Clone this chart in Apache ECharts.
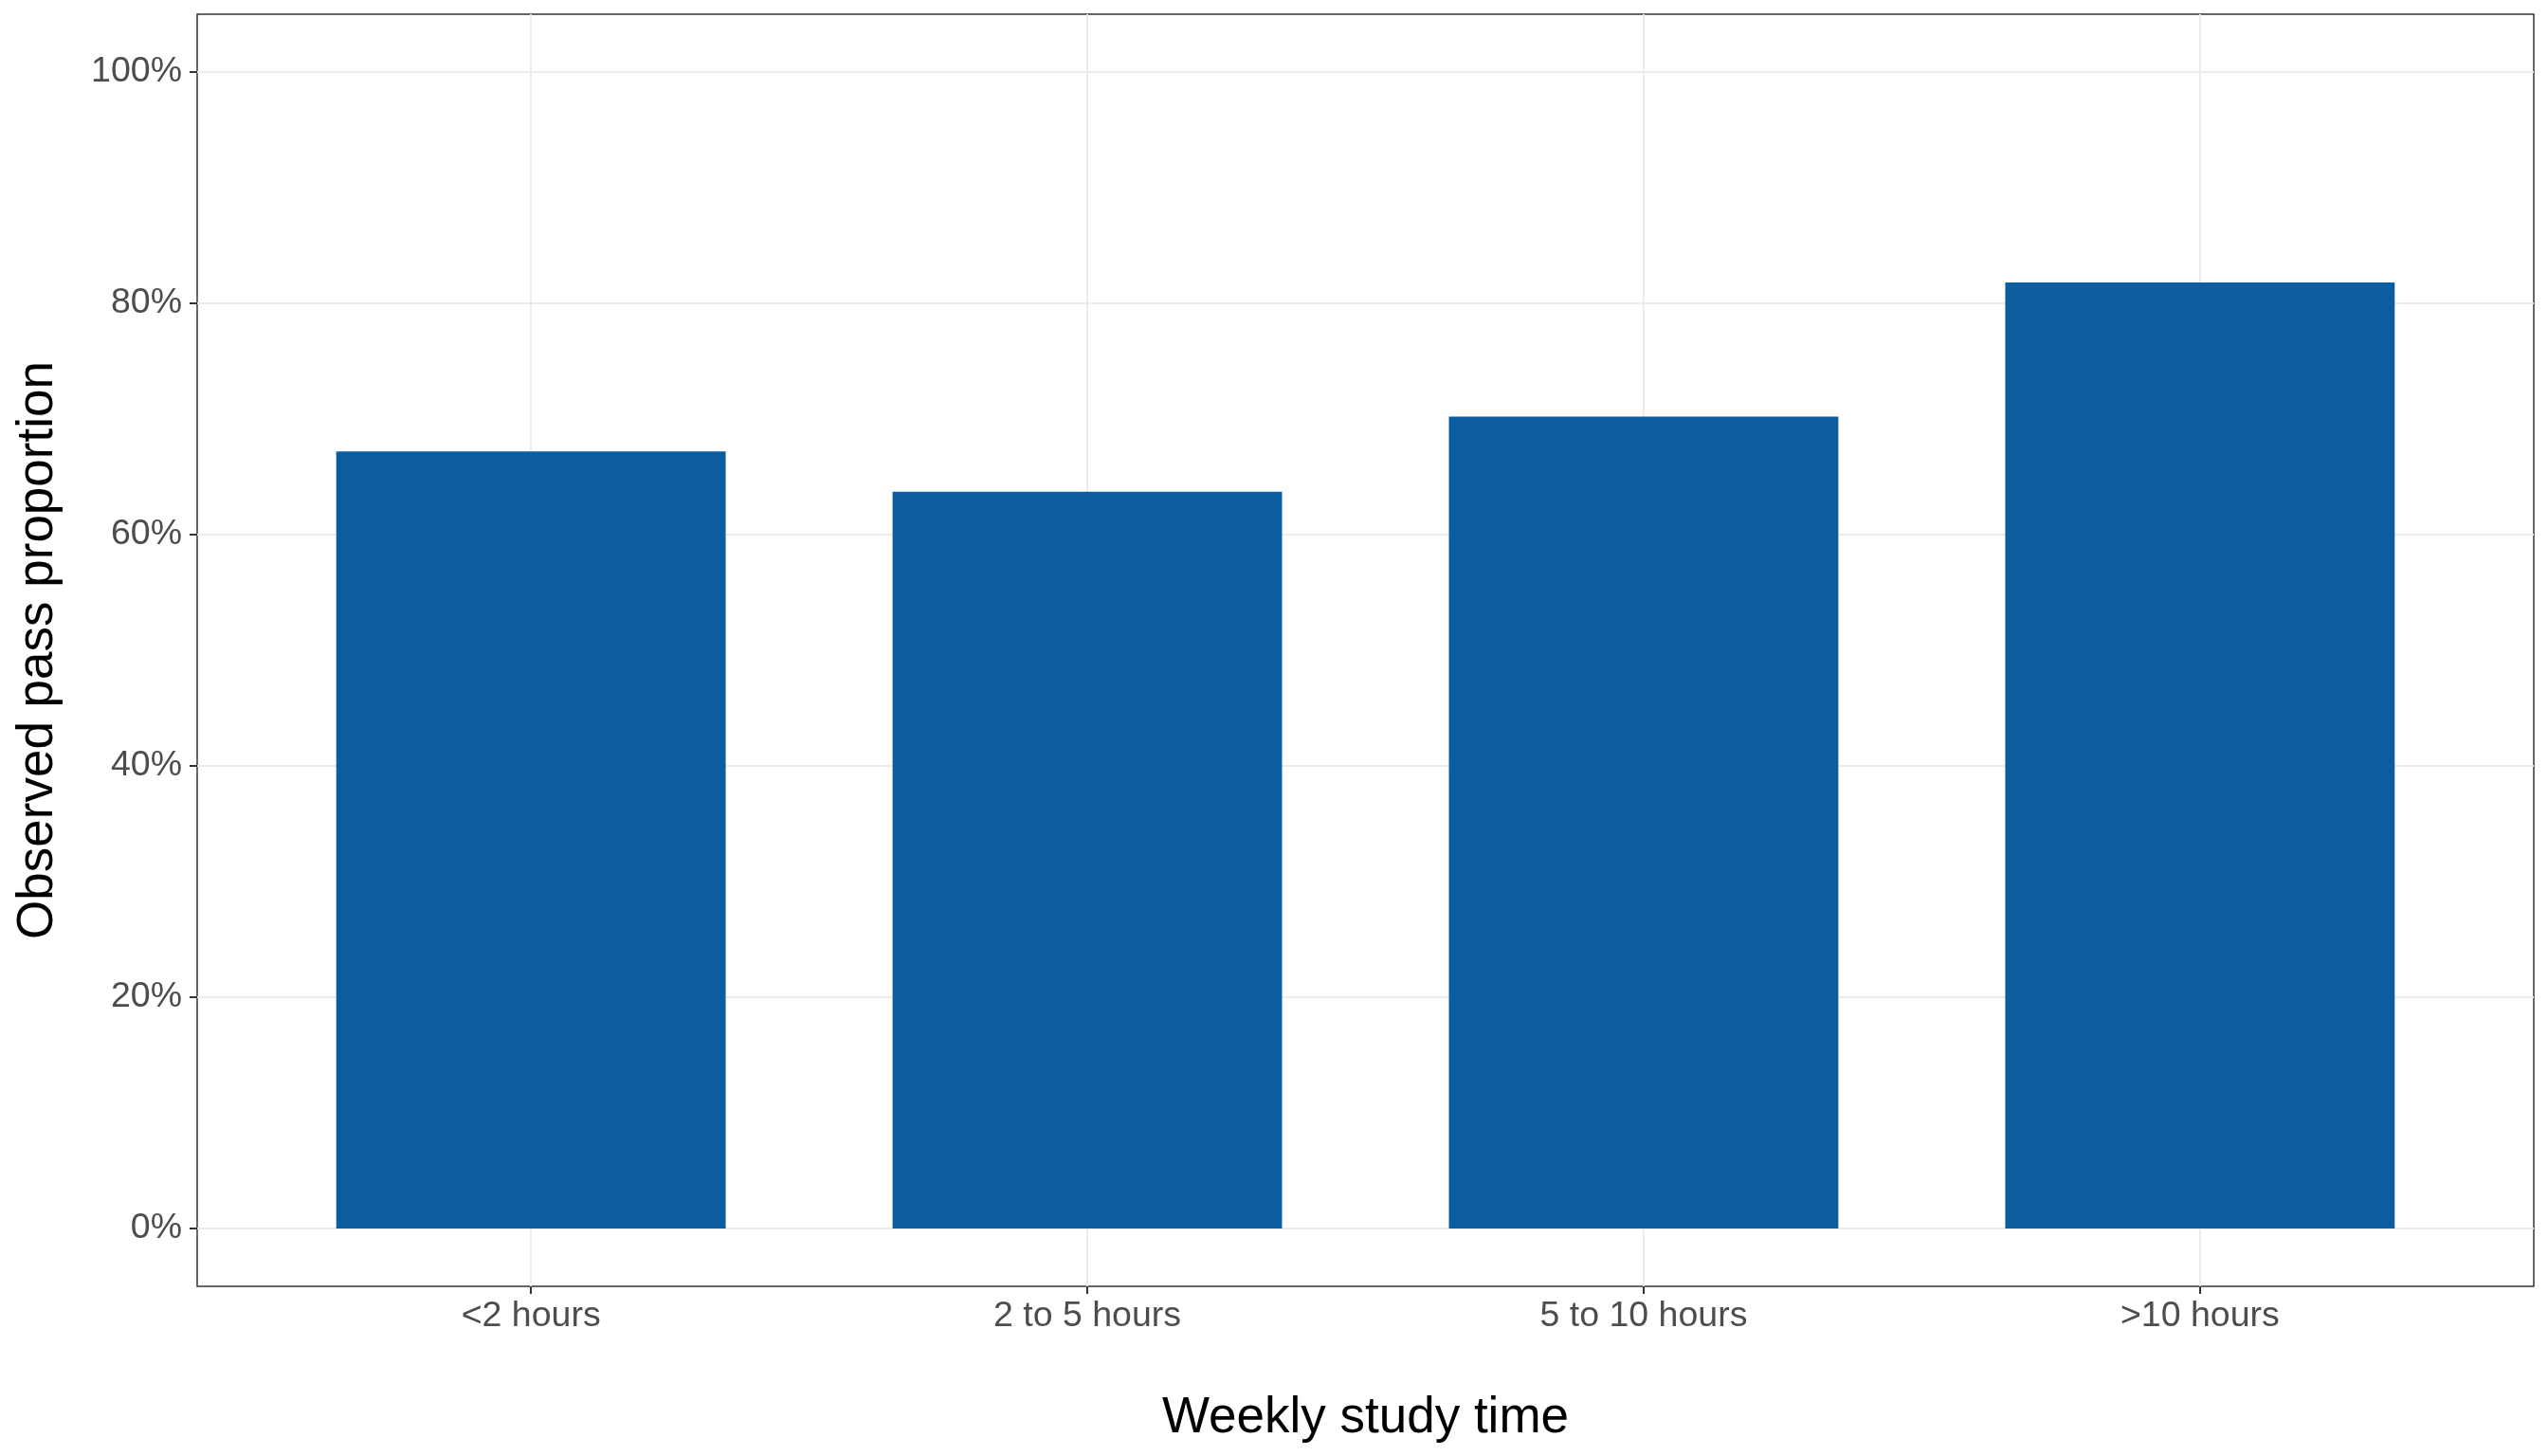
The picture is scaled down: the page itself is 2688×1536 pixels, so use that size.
<!DOCTYPE html>
<html>
<head>
<meta charset="utf-8">
<script src="https://cdn.jsdelivr.net/npm/echarts@6/dist/echarts.min.js"></script>
<style>
  html, body { margin: 0; padding: 0; background: #ffffff; }
  #chart { width: 2688px; height: 1536px; }
</style>
</head>
<body>
<div id="chart"></div>
<script>
// ---- data ----
const categories = ['<2 hours', '2 to 5 hours', '5 to 10 hours', '>10 hours'];
const passPercent = [67.2, 63.7, 70.2, 81.8];
const yTicks = [0, 20, 40, 60, 80, 100];
const xTitle = 'Weekly study time';
const yTitle = 'Observed pass proportion';

const xPositions = categories.map((_, i) => i + 1);
const barData = passPercent.map((v, i) => [xPositions[i], v]);

const FONT = "'Liberation Sans', Arial, Helvetica, sans-serif";
const chart = echarts.init(document.getElementById('chart'), null, { renderer: 'canvas' });

chart.setOption({
  backgroundColor: '#ffffff',
  animation: false,
  grid: {
    left: 208, right: 15, top: 15, bottom: 179,
    show: true, borderColor: '#333333', borderWidth: 1.5, backgroundColor: '#ffffff'
  },
  xAxis: {
    type: 'value',
    min: 0.4, max: 4.6,
    name: xTitle,
    nameLocation: 'middle',
    nameGap: 113,
    nameTextStyle: { fontFamily: FONT, fontSize: 53, color: '#000000' },
    axisLine: { show: false, onZero: false },
    axisTick: { show: true, length: 8, customValues: xPositions, lineStyle: { color: '#333333', width: 2 } },
    axisLabel: {
      customValues: xPositions,
      formatter: (v) => categories[Math.round(v) - 1] || '',
      fontFamily: FONT, fontSize: 37.5, color: '#4D4D4D', margin: 12.5
    },
    splitLine: { show: true, lineStyle: { color: '#EBEBEB', width: 2 } }
  },
  yAxis: {
    type: 'value',
    min: -5, max: 105,
    name: yTitle,
    nameLocation: 'middle',
    nameGap: 141,
    nameTextStyle: { fontFamily: FONT, fontSize: 53, color: '#000000' },
    axisLine: { show: false, onZero: false },
    axisTick: { show: true, length: 8, customValues: yTicks, lineStyle: { color: '#333333', width: 2 } },
    axisLabel: {
      customValues: yTicks,
      formatter: (v) => v + '%',
      fontFamily: FONT, fontSize: 37.5, color: '#4D4D4D', margin: 16
    },
    splitLine: { show: true, lineStyle: { color: '#EBEBEB', width: 2 } }
  },
  series: [{
    type: 'bar',
    data: barData,
    barWidth: '70%',
    itemStyle: { color: '#0B5DA0' },
    silent: true
  }]
});
</script>
</body>
</html>
